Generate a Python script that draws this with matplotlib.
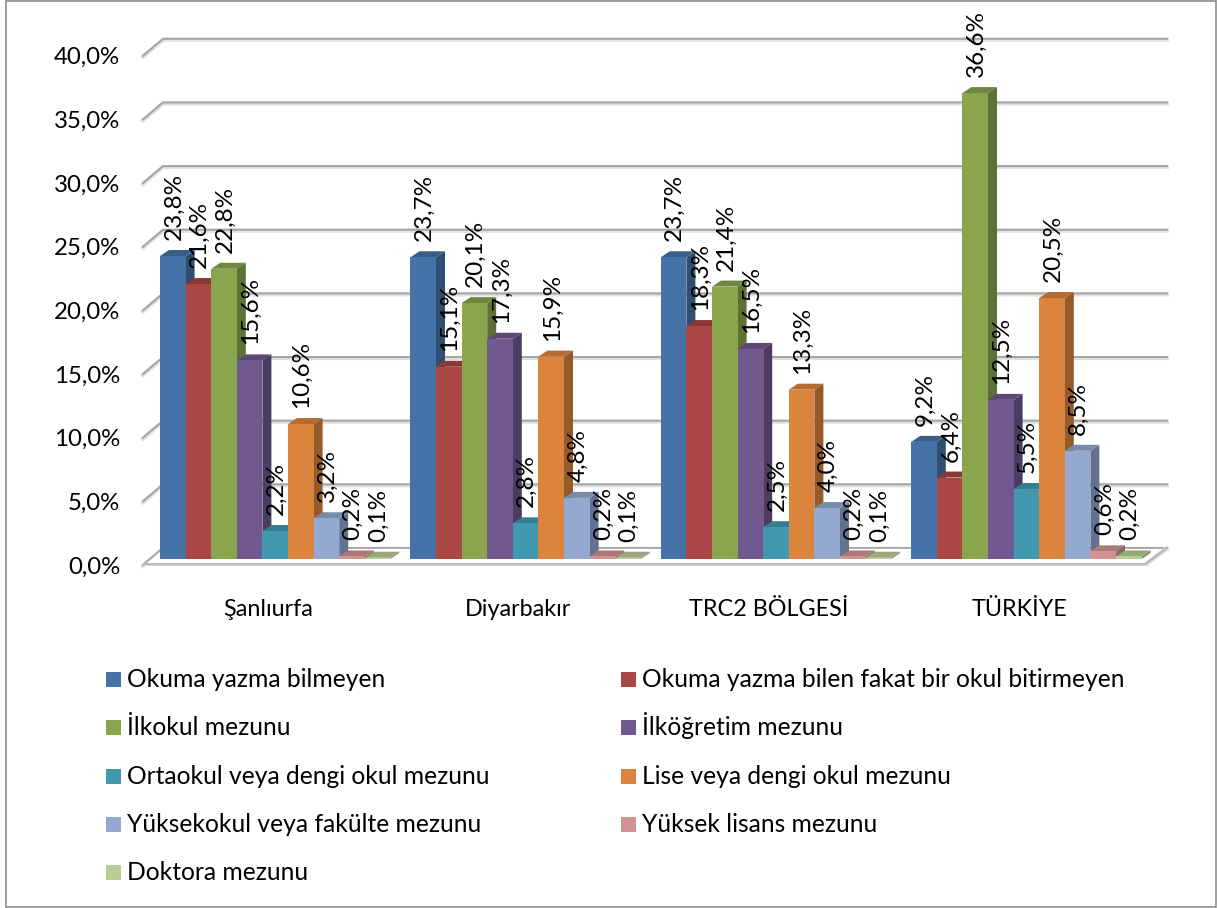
import matplotlib
matplotlib.use("Agg")
import matplotlib.pyplot as plt
from matplotlib.patches import Polygon, Rectangle
from matplotlib.transforms import ScaledTranslation

plt.rcParams['font.family'] = ['Lato', 'DejaVu Sans']

categories = ['Şanlıurfa', 'Diyarbakır', 'TRC2 BÖLGESİ', 'TÜRKİYE']
series_names = ['Okuma yazma bilmeyen', 'Okuma yazma bilen fakat bir okul bitirmeyen',
                'İlkokul mezunu', 'İlköğretim mezunu',
                'Ortaokul veya dengi okul mezunu', 'Lise veya dengi okul mezunu',
                'Yüksekokul veya fakülte mezunu', 'Yüksek lisans mezunu', 'Doktora mezunu']
okuma_yazma_bilmeyen = [23.8, 23.7, 23.7, 9.2]
bitirmeyen = [21.6, 15.1, 18.3, 6.4]
ilkokul = [22.8, 20.1, 21.4, 36.6]
ilkogretim = [15.6, 17.3, 16.5, 12.5]
ortaokul = [2.2, 2.8, 2.5, 5.5]
lise = [10.6, 15.9, 13.3, 20.5]
yuksekokul = [3.2, 4.8, 4.0, 8.5]
yuksek_lisans = [0.2, 0.2, 0.2, 0.6]
doktora = [0.1, 0.1, 0.1, 0.2]
series_values = [okuma_yazma_bilmeyen, bitirmeyen, ilkokul, ilkogretim, ortaokul,
                 lise, yuksekokul, yuksek_lisans, doktora]
colors = ['#4572A7', '#AA4643', '#89A54E', '#71588F', '#4198AF', '#DB843D',
          '#93A9CF', '#D19392', '#B9CD96']
yticks = [0, 5, 10, 15, 20, 25, 30, 35, 40]

W, H = 1218, 908
PX_GROUP = 250.4      # pixels per category
PX_UNIT = 12.73       # pixels per percent
X0, Y0 = 268.0, 559.0 # pixel position of category 0 / value 0
AX_L, AX_R, AX_B, AX_T = 143, 1167, 566, 20
BAR_W = 25.6 / PX_GROUP
BAR_OFF = -108.0 / PX_GROUP

def dxp(p):
    return p / PX_GROUP
def dyp(p):
    return p / PX_UNIT
def shade(c, f):
    r, g, b = matplotlib.colors.to_rgb(c)
    return (r * f, g * f, b * f)

fig = plt.figure(figsize=(W / 100, H / 100), dpi=100, facecolor='white')
ax = fig.add_axes([AX_L / W, 1 - AX_B / H, (AX_R - AX_L) / W, (AX_B - AX_T) / H])
ax.set_xlim((AX_L - X0) / PX_GROUP, (AX_R - X0) / PX_GROUP)
ax.set_ylim((Y0 - AX_B) / PX_UNIT, (Y0 - AX_T) / PX_UNIT)
ax.patch.set_visible(False)
for s in ax.spines.values():
    s.set_visible(False)

# outer chart frame
fig.add_artist(Rectangle((5.5 / W, 0.7 / H), (1216 - 5.5) / W, (906.3) / H, transform=fig.transFigure,
                         fill=False, ec='#8c8c8c', lw=1.2))

# back wall, left wall and floor
xb0, xb1 = (163 - X0) / PX_GROUP, (1167 - X0) / PX_GROUP
xf0, xf1 = (143 - X0) / PX_GROUP, (1145 - X0) / PX_GROUP
back, front = dyp(11), -dyp(6)
for v in yticks:
    for lw, col, off in ((3.0, '#e2e2e2', -0.08), (1.5, '#a6a6a6', 0)):
        ax.plot([xf0, xb0, xb1], [v + front + off, v + back + off, v + back + off],
                color=col, lw=lw, solid_joinstyle='miter', clip_on=False, zorder=1)
ax.add_patch(Polygon([[xf0, front], [xf1, front], [xb1, back], [xb0, back]], closed=True,
                     fc='white', ec='#a6a6a6', lw=1.3, zorder=1.5))
ax.plot([xf0, xf1, xb1], [front, front, back], color='#d4d4d4', lw=3, zorder=1.6,
        solid_joinstyle='miter')
ax.plot([xf0, xf1, xb1], [front + dyp(1), front + dyp(1), back], color='#b0b0b0', lw=1, zorder=1.7)

# 3-D bars
z = 2
ddx, ddy = dxp(9), dyp(6)
for j, (vals, c) in enumerate(zip(series_values, colors)):
    for i, v in enumerate(vals):
        left = i + BAR_OFF + j * BAR_W
        zz = z + (i * 10 + j) * 0.1
        ax.bar(left, v, BAR_W, align='edge', color=c, zorder=zz + 0.02, lw=0)
        ax.add_patch(Polygon([[left + BAR_W, 0], [left + BAR_W + ddx, ddy], [left + BAR_W + ddx, v + ddy],
                              [left + BAR_W, v]], closed=True, fc=shade(c, 0.68), lw=0, zorder=zz))
        ax.add_patch(Polygon([[left, v], [left + BAR_W, v], [left + BAR_W + ddx, v + ddy],
                              [left + ddx, v + ddy]], closed=True, fc=shade(c, 0.82), lw=0, zorder=zz + 0.01))
        ax.annotate(f'{v:.1f}%'.replace('.', ','), (left + BAR_W / 2, v), xytext=(1 * 0.72, 16 * 0.72),
                    textcoords='offset points', rotation=90, ha='center', va='bottom',
                    fontsize=17.5, color='#000000', zorder=50, annotation_clip=False)

# axes ticks
ax.set_yticks(yticks)
ax.set_yticklabels([f'{v:.1f}%'.replace('.', ',') for v in yticks], fontsize=17.3, color='#000000')
ax.tick_params(axis='y', length=0, pad=16.5)
shift = ScaledTranslation(0, -6 / 100, fig.dpi_scale_trans)
for lab in ax.get_yticklabels():
    lab.set_transform(lab.get_transform() + shift)
ax.set_xticks(range(len(categories)))
ax.set_xticklabels(categories, fontsize=16.8, color='#000000')
ax.tick_params(axis='x', length=0, pad=24)

# legend, filled row by row in two columns
fs = 17.7
col_x = [106, 621]
row_top = [672, 720, 769, 817, 865]
for k, (name, c) in enumerate(zip(series_names, colors)):
    x = col_x[k % 2]
    y = row_top[k // 2]
    fig.add_artist(Rectangle((x / W, 1 - (y + 15) / H), 15 / W, 15 / H, transform=fig.transFigure,
                             fc=c, ec='none'))
    fig.text((x + 21) / W, 1 - (y + 15) / H, name, fontsize=fs, color='#000000', ha='left', va='baseline')

fig.savefig('out.png', dpi=100, facecolor='white')
